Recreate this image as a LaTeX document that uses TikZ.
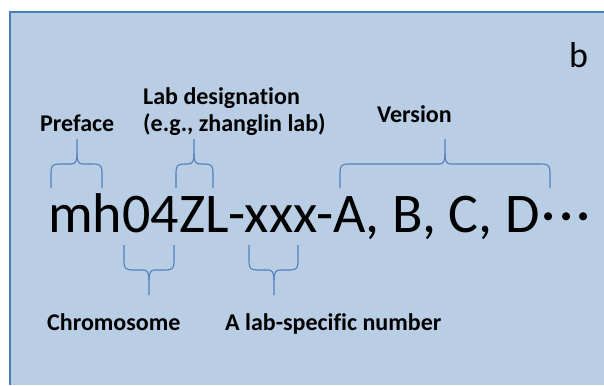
\documentclass[tikz,border=0pt]{standalone}
\usepackage{fontspec}
\setmainfont{Carlito}[Ligatures=NoCommon]
\definecolor{boxfill}{HTML}{B9CDE5}
\definecolor{boxline}{HTML}{4A7EBB}
\definecolor{bracecol}{HTML}{4F81BD}
\newcommand{\upbrace}[6]{%
  \draw[bracestyle] (#1,#4) -- (#1,#5+8) .. controls (#1,#5+2) and (#1+2,#5) .. (#1+8,#5)
    -- (#3-6,#5) .. controls (#3-2,#5) and (#3,#5-2) .. (#3,#5-10) -- (#3,#6);
  \draw[bracestyle] (#2,#4) -- (#2,#5+8) .. controls (#2,#5+2) and (#2-2,#5) .. (#2-8,#5)
    -- (#3+6,#5) .. controls (#3+2,#5) and (#3,#5-2) .. (#3,#5-10);
}
\newcommand{\downbrace}[6]{%
  \draw[bracestyle] (#1,#4) -- (#1,#5-8) .. controls (#1,#5-2) and (#1+2,#5) .. (#1+8,#5)
    -- (#3-6,#5) .. controls (#3-2,#5) and (#3,#5+2) .. (#3,#5+10) -- (#3,#6);
  \draw[bracestyle] (#2,#4) -- (#2,#5-8) .. controls (#2,#5-2) and (#2-2,#5) .. (#2-8,#5)
    -- (#3+6,#5) .. controls (#3+2,#5) and (#3,#5+2) .. (#3,#5+10);
}
\tikzset{
  bracestyle/.style={draw=bracecol, line width=1.1pt},
  lbl/.style={inner sep=0pt, anchor=base west, font=\fontsize{24}{27}\selectfont\bfseries},
  bigtxt/.style={inner sep=0pt, anchor=base west, font=\fontsize{56}{60}\selectfont},
  panel/.style={inner sep=0pt, anchor=base west, font=\fontsize{36}{40}\selectfont}
}
\begin{document}
\begin{tikzpicture}[x=1pt,y=-1pt]
\useasboundingbox (0,0) rectangle (604,385);
\fill[boxfill] (10,12) rectangle (604,385);
\draw[boxline, line width=1.5pt] (604,12) -- (10,12) -- (10,385);
\node[panel] (b) at (569,68) {b};
\node[lbl] (preface) at (40,131) {Preface};
\node[lbl, align=left] (labdes) at (143,131) {Lab designation\\(e.g., zhanglin lab)};
\node[lbl] (version) at (377,122) {Version};
\node[bigtxt] (main) at (48,232) {mh04ZL-xxx-A, B, C, D\kern2pt·\kern3.5pt·\kern3.5pt·};
\node[lbl] (chrom) at (47,330) {Chromosome};
\node[lbl] (labnum) at (225,330) {A lab-specific number};
\upbrace{51}{102}{77}{188}{164}{139}
\upbrace{176}{213}{194}{188}{164}{139}
\upbrace{340}{550}{445}{188}{164}{139}
\downbrace{124}{174}{149}{245}{270}{295}
\downbrace{249}{298}{274}{245}{270}{295}
\end{tikzpicture}
\end{document}
